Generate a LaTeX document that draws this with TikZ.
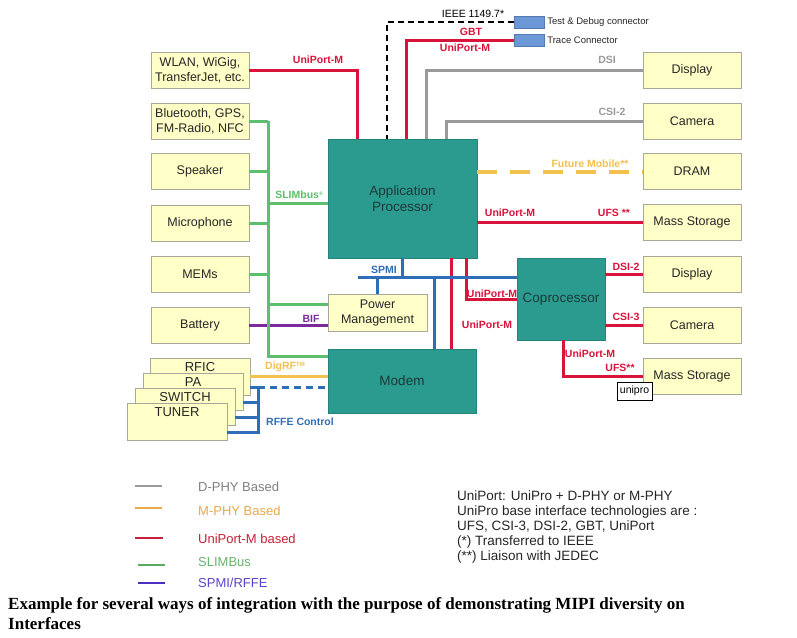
\documentclass[tikz,border=0pt]{standalone}
\usepackage{fontspec}
\setmainfont{Liberation Sans}
\newfontfamily\capfont{Liberation Serif}
\definecolor{boxfill}{HTML}{FFFFC8}
\definecolor{boxgray}{HTML}{A8A898}
\definecolor{teal1}{HTML}{2B9A8F}
\definecolor{tealtext}{HTML}{1C3A38}
\definecolor{mred}{HTML}{D9143A}
\definecolor{mgreen}{HTML}{5CBF6E}
\definecolor{mblue}{HTML}{2E6EB8}
\definecolor{lgray}{HTML}{9A9A9A}
\definecolor{morange}{HTML}{F2C14E}
\definecolor{mpurple}{HTML}{7A2A9A}
\definecolor{cbox}{HTML}{6C98D8}
\definecolor{legorange}{HTML}{E8A94A}
\definecolor{legred}{HTML}{C82038}
\definecolor{leggreen}{HTML}{5BAA5F}
\definecolor{legpurple}{HTML}{4A2FC0}
\begin{document}
\begin{tikzpicture}[x=1pt,y=-1pt,
  ybox/.style={draw=boxgray,line width=0.8pt,fill=boxfill,minimum width=98pt,minimum height=36pt,inner sep=1pt,align=center,font=\fontsize{12.5}{15}\selectfont,text=black!85},
  rbox/.style={draw=boxgray,line width=0.8pt,fill=boxfill,minimum width=100pt,minimum height=37pt,inner sep=0pt},
  rtext/.style={font=\fontsize{13}{15}\selectfont,text=black!85,inner sep=0pt},
  tbox/.style={fill=teal1,draw=teal1!85!black,line width=0.4pt,align=center,font=\fontsize{13.5}{16}\selectfont,text=tealtext},
  connbox/.style={fill=cbox,draw=cbox!80!black,line width=0.3pt,minimum width=30pt,minimum height=12pt,inner sep=0pt},
  lbl/.style={font=\bfseries\fontsize{10.5}{12}\selectfont,inner sep=0pt},
  small/.style={font=\fontsize{9.5}{11}\selectfont,inner sep=0pt,text=black!85},
  redl/.style={draw=mred,line width=3pt},
  greenl/.style={draw=mgreen,line width=3pt},
  grayl/.style={draw=lgray,line width=3pt},
  bluel/.style={draw=mblue,line width=3pt},
  bluedash/.style={draw=mblue,line width=3pt,dash pattern=on 7pt off 5pt},
  purplel/.style={draw=mpurple,line width=3pt},
  orangel/.style={draw=morange,line width=3pt},
  orangedash/.style={draw=morange,line width=4pt,dash pattern=on 20pt off 13pt},
  ieeeline/.style={draw=black,line width=2pt,dash pattern=on 6pt off 4pt},
  legline/.style={line width=2pt},
  legtext/.style={anchor=west,font=\fontsize{13}{15}\selectfont,inner sep=0pt}
]
\useasboundingbox (0,0) rectangle (797,637);
\fill[white] (0,0) rectangle (797,637);

% left boxes
\node[ybox] (wlan) at (200,70) {WLAN, WiGig,\\TransferJet, etc.};
\node[ybox] (bt) at (200,121) {Bluetooth, GPS,\\FM-Radio, NFC};
\node[ybox] (spk) at (200,171.5) {Speaker};
\node[ybox] (mic) at (200,223) {Microphone};
\node[ybox] (mems) at (200,274) {MEMs};
\node[ybox] (bat) at (200,325.5) {Battery};

% right boxes
\node[ybox] (disp1) at (692,70) {Display};
\node[ybox] (cam1) at (692,121) {Camera};
\node[ybox] (dram) at (692,171.5) {DRAM};
\node[ybox] (ms1) at (692,222.5) {Mass Storage};
\node[ybox] (disp2) at (692,274) {Display};
\node[ybox] (cam2) at (692,325) {Camera};
\node[ybox] (ms2) at (692,376.5) {Mass Storage};

% teal blocks
\node[tbox,minimum width=149pt,minimum height=119pt] (app) at (402.5,198.5) {Application\\Processor};
\node[tbox,minimum width=88pt,minimum height=82pt] (cop) at (561,299) {Coprocessor};
\node[tbox,minimum width=148pt,minimum height=64pt] (modem) at (402,381) {Modem};
\node[ybox,minimum width=99pt,minimum height=37pt] (pm) at (377.5,312.5) {Power\\Management};

% connector boxes
\node[connbox] (tdc) at (529,22) {};
\node[connbox] (trace) at (529,40) {};
\node[small,anchor=west] (tdcl) at ([xshift=3pt]tdc.east) {Test \& Debug connector};
\node[small,anchor=west] (tracel) at ([xshift=3pt]trace.east) {Trace Connector};

% RF stack
\node[rbox] (rfic) at (200,376.5) {};
\node[rtext] (rficT) at (200,367) {RFIC};
\node[rbox] (pa) at (193,391.5) {};
\node[rtext] (paT) at (193,382) {PA};
\node[rbox] (sw) at (185,406.5) {};
\node[rtext] (swT) at (185,397) {SWITCH};
\node[rbox] (tuner) at (177,421.5) {};
\node[rtext] (tunerT) at (177,412) {TUNER};

% connectors to application processor top
\draw[redl] (wlan.east) -| ([xshift=30pt]app.north west);
\draw[ieeeline] (tdc.west) -| ([xshift=59pt]app.north west);
\draw[redl] (trace.west) -| ([xshift=79pt]app.north west);
\draw[grayl] (disp1.west) -| ([xshift=99pt]app.north west);
\draw[grayl] (cam1.west) -| ([xshift=119pt]app.north west);
% right side
\draw[orangedash] (app.east |- dram.west) -- (dram.west);
\draw[redl] (app.east |- ms1.west) -- (ms1.west);
\draw[redl] (cop.east |- disp2.west) -- (disp2.west);
\draw[redl] (cop.east |- cam2.west) -- (cam2.west);
\draw[redl] ([xshift=2pt]cop.south) |- (ms2.west);
% app bottom red
\draw[redl] ([xshift=124pt]app.south west) -- ([xshift=124pt]app.south west |- modem.north);
\draw[redl] ([xshift=139pt]app.south west) |- (cop.west);
% SPMI
\coordinate (spmiL) at (358,277);
\draw[bluel] (spmiL) -- (cop.west |- spmiL);
\draw[bluel] ([xshift=75pt]app.south west) -- ([xshift=75pt]app.south west |- spmiL);
\draw[bluel] (pm.north) -- (pm.north |- spmiL);
\draw[bluel] ([xshift=107pt]modem.north west) -- ([xshift=107pt]modem.north west |- spmiL);
% BIF
\draw[purplel] (bat.east) -- (pm.west |- bat.east);
% SLIMbus
\coordinate (sb) at (268,121);
\draw[greenl] (bt.east) -- (sb);
\draw[greenl] (spk.east) -| (sb);
\draw[greenl] (mic.east) -| (sb);
\draw[greenl] (mems.east) -| (sb);
\draw[greenl] ([yshift=-4.5pt]app.west) -| (sb);
\draw[greenl] ([yshift=8.5pt]pm.west) -| (sb);
\draw[greenl] ([yshift=25pt]modem.west) -| (sb);
% DigRF
\draw[orangel] (rfic.east) -- (modem.west |- rfic.east);
% RFFE
\coordinate (rf) at (258,387.5);
\draw[bluel] ([yshift=-11pt]rfic.east) -- (rf);
\draw[bluel] ([yshift=-11pt]pa.east) -| (rf);
\draw[bluel] ([yshift=-11pt]sw.east) -| (rf);
\draw[bluel] ([yshift=-11pt]tuner.east) -| (rf);
\draw[bluedash] (rf) -- (modem.west |- rf);

% labels
\node[lbl,text=mred] (l1) at (318,60) {UniPort-M};
\node[font=\fontsize{10.5}{12}\selectfont,inner sep=0pt] (ieee) at (473,14) {IEEE 1149.7*};
\node[lbl,text=mred] (gbt) at (471,32) {GBT};
\node[lbl,text=mred] (l2) at (465,48) {UniPort-M};
\node[lbl,text=lgray] (dsi) at (607,60) {DSI};
\node[lbl,text=lgray] (csi2) at (612,112) {CSI-2};
\node[lbl,text=morange] (fm) at (590,164) {Future Mobile**};
\node[lbl,text=mred] (l3) at (510,213) {UniPort-M};
\node[lbl,text=mred] (ufs1) at (614,213) {UFS **};
\node[lbl,text=mgreen] (slim) at (299,195) {SLIMbus{\fontsize{5}{5}\selectfont\raisebox{3.5pt}{®}}};
\node[lbl,text=mblue] (spmi) at (384,270) {SPMI};
\node[lbl,text=mred] (l4) at (492,294) {UniPort-M};
\node[lbl,text=mred] (l5) at (487,325) {UniPort-M};
\node[lbl,text=mpurple] (bif) at (311,319) {BIF};
\node[lbl,text=mred] (dsi2) at (626,267) {DSI-2};
\node[lbl,text=mred] (csi3) at (626,317) {CSI-3};
\node[lbl,text=mred] (l6) at (590,354) {UniPort-M};
\node[lbl,text=mred] (ufs2) at (620,368) {UFS**};
\node[lbl,text=morange] (dig) at (285,367) {DigRF{\fontsize{6}{6}\selectfont\raisebox{3pt}{TM}}};
\node[lbl,text=mblue] (rffe) at (300,422) {RFFE Control};

% unipro tag
\node[draw=black,fill=white,line width=0.6pt,inner sep=1pt,minimum width=35pt,minimum height=18pt,font=\fontsize{10.5}{12}\selectfont] (unipro) at (634.5,391) {unipro};

% legend
\draw[legline,draw=lgray] (135,486) -- (162,486);
\draw[legline,draw=legorange] (135,508) -- (162,508);
\draw[legline,draw=legred] (135,538) -- (163,538);
\draw[legline,draw=leggreen] (138,565) -- (165,565);
\draw[legline,draw=legpurple] (138,583) -- (165,583);
\node[legtext,text=black!50] (lg1) at (198,487) {D-PHY Based};
\node[legtext,text=legorange] (lg2) at (198,511) {M-PHY Based};
\node[legtext,text=legred] (lg3) at (198,539) {UniPort-M based};
\node[legtext,text=leggreen!90!white] (lg4) at (198,562) {SLIMBus};
\node[legtext,text=legpurple!90!white] (lg5) at (198,583) {SPMI/RFFE};

% notes
\node[anchor=north west,align=left,inner sep=0pt,font=\fontsize{13.5}{15}\selectfont,text=black!85] (notes) at (457,491) {UniPort: UniPro + D-PHY or M-PHY\\UniPro base interface technologies are :\\UFS, CSI-3, DSI-2, GBT, UniPort\\(*) Transferred to IEEE\\(**) Liaison with JEDEC};

% caption
\node[anchor=north west,align=left,inner sep=0pt,font=\capfont\bfseries\fontsize{17}{20}\selectfont] (caption) at (8,597) {Example for several ways of integration with the purpose of demonstrating MIPI diversity on\\Interfaces};
\end{tikzpicture}
\end{document}
